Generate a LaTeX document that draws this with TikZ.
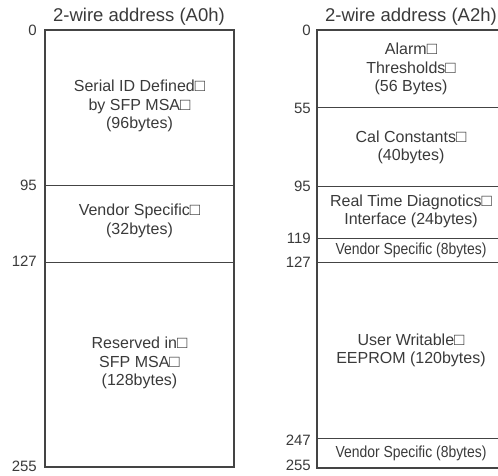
\documentclass[tikz,border=0pt]{standalone}
\usepackage{fontspec}
\setmainfont{Liberation Sans}
\definecolor{txtc}{HTML}{3A3A3A}
\definecolor{linec}{HTML}{444444}
\newcommand\sqg{{\fontsize{17}{17}\selectfont □}}
\newcommand\cond[1]{\scalebox{0.87}[1]{#1}}
\begin{document}
\begin{tikzpicture}[x=1pt,y=-1pt,
  lbl/.style={font=\fontsize{16}{18.5}\selectfont, align=center, text=txtc, inner sep=0},
  num/.style={font=\fontsize{15}{15}\selectfont, anchor=east, text=txtc, inner sep=0},
  ttl/.style={font=\fontsize{18.5}{20}\selectfont, text=txtc, inner sep=0},
  outerline/.style={draw=linec, line width=1.6pt},
  innerline/.style={draw=linec, line width=1pt}]
\clip (0,0) rectangle (498,476);
% ---------- left map (A0h)
\node[ttl] (t0) at (139,16.5) {2-wire address (A0h)};
\draw[innerline] (45,185) -- (234,185);
\draw[innerline] (45,262) -- (234,262);
\draw[outerline] (45,30) rectangle (234,467);
\node[lbl] (a1) at (139.5,106) {Serial ID Defined\sqg\\by SFP MSA\sqg\\(96bytes)};
\node[lbl] (a2) at (139.5,221) {Vendor Specific\sqg\\(32bytes)};
\node[lbl] (a3) at (139.5,363) {Reserved in\sqg\\SFP MSA\sqg\\(128bytes)};
\node[num] (n00) at (37,30) {0};
\node[num] (n01) at (37,185) {95};
\node[num] (n02) at (37,261) {127};
\node[num] (n03) at (37,466) {255};
% ---------- right map (A2h)
\node[ttl] (t2) at (411,16.5) {2-wire address (A2h)};
\draw[innerline] (317,108) -- (506,108);
\draw[innerline] (317,186) -- (506,186);
\draw[innerline] (317,238) -- (506,238);
\draw[innerline] (317,262) -- (506,262);
\draw[innerline] (317,438) -- (506,438);
\draw[outerline] (317,30) rectangle (506,468);
\node[lbl] (b1) at (411,69) {Alarm\sqg\\Thresholds\sqg\\(56 Bytes)};
\node[lbl] (b2) at (411,147.5) {Cal Constants\sqg\\(40bytes)};
\node[lbl] (b3) at (411,211.5) {Real Time Diagnotics\sqg\\Interface (24bytes)};
\node[lbl] (b4) at (411,250) {\cond{Vendor Specific (8bytes)}};
\node[lbl] (b5) at (411,350.5) {User Writable\sqg\\EEPROM (120bytes)};
\node[lbl] (b6) at (411,453) {\cond{Vendor Specific (8bytes)}};
\node[num] (m00) at (311,30) {0};
\node[num] (m01) at (311,108) {55};
\node[num] (m02) at (311,186) {95};
\node[num] (m03) at (311,238) {119};
\node[num] (m04) at (311,262) {127};
\node[num] (m05) at (311,440) {247};
\node[num] (m06) at (311,465) {255};
\end{tikzpicture}
\end{document}
